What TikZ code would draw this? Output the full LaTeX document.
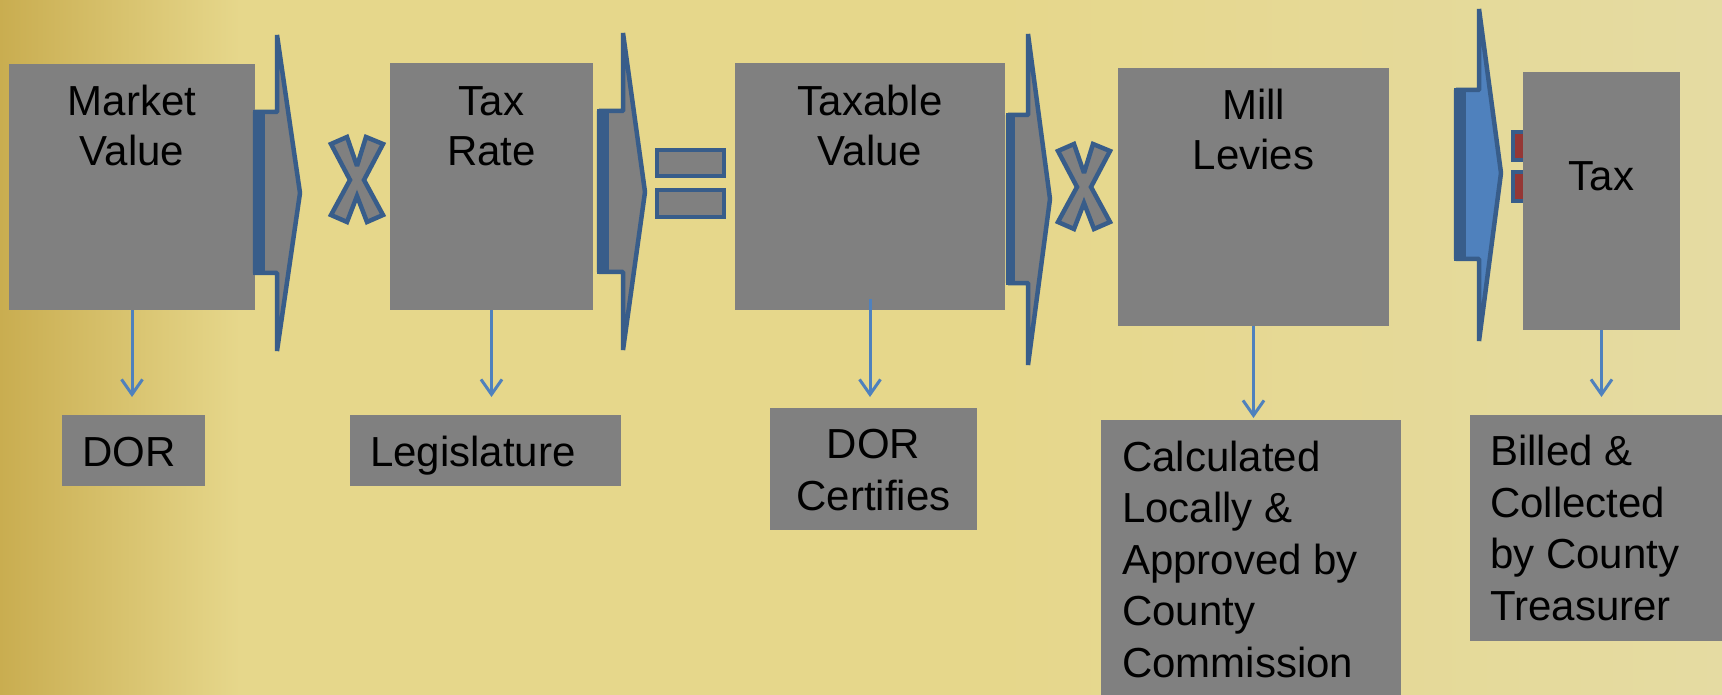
\documentclass[tikz,border=0pt]{standalone}
\usepackage{fontspec}
\setmainfont{Liberation Sans}
\usetikzlibrary{arrows.meta, positioning}

\definecolor{Slate}{HTML}{808080}
\definecolor{Outline}{HTML}{385D8A}
\definecolor{SkyFill}{HTML}{4F81BD}
\definecolor{Brick}{HTML}{953735}
\definecolor{GoldDark}{HTML}{C9AD50}
\definecolor{GoldMid}{HTML}{E6D78B}
\definecolor{GoldPale}{HTML}{E5DBA2}

\tikzset{
  box/.style={rectangle, fill=Slate, inner sep=0pt, outer sep=0pt},
  words/.style={font=\fontsize{42}{50}\selectfont, inner sep=0pt, anchor=base},
  notes/.style={words, font=\fontsize{42}{51.5}\selectfont},
  down/.style={-{Straight Barb[length=15pt, width=21pt, line width=3pt]}, line width=3pt, draw=SkyFill},
  sign/.style={draw=Outline, line width=4.5pt, fill=Slate, line join=miter, miter limit=3},
  times/.pic={
    \draw[sign] (-26,-36) -- (-10,-43) -- (0,-14) -- (9,-43) -- (26,-36) -- (7,0)
      -- (26,35) -- (10,42) -- (0,16) -- (-10,42) -- (-26,35) -- (-7,0) -- cycle;
  }
}

\begin{document}
\begin{tikzpicture}[x=1pt, y=-1pt]
  \useasboundingbox (0,0) rectangle (1722,695);

  % background
  \shade[left color=GoldDark, right color=GoldMid] (0,0) rectangle (240,695);
  \fill[GoldMid] (239,0) rectangle (1001,695);
  \shade[left color=GoldMid, right color=GoldPale] (1000,0) rectangle (1722,695);

  % equals sign partly hidden behind the last box
  \draw[sign, fill=Brick] (1513,132) rectangle (1562,160);
  \draw[sign, fill=Brick] (1513,172) rectangle (1562,201);

  % top row
  \node[box, minimum width=246, minimum height=246] (mv) at (132,187) {};
  \node[box, minimum width=203, minimum height=247] (tr) at (491.5,186.5) {};
  \node[box, minimum width=270, minimum height=247] (tv) at (870,186.5) {};
  \node[box, minimum width=271, minimum height=258] (ml) at (1253.5,197) {};
  \node[box, minimum width=157, minimum height=258] (tx) at (1601.5,201) {};

  % bottom row
  \node[box, minimum width=143, minimum height=71] (dor) at (133.5,450.5) {};
  \node[box, minimum width=271, minimum height=71] (leg) at (485.5,450.5) {};
  \node[box, minimum width=207, minimum height=122] (cert) at (873.5,469) {};
  \node[box, minimum width=300, minimum height=290] (calc) at (1251,565) {};
  \node[box, minimum width=260, minimum height=226] (bill) at (1600,528) {};

  % block arrows between the boxes
  \draw[sign, line join=bevel] (255,112) -- (277,112) -- (277,35) -- (300,193) -- (277,351)
    -- (277,273) -- (255,273) -- cycle;
  \fill[Outline] (253,110) rectangle (265,275);
  \draw[sign, line join=bevel] (599,111) -- (623,111) -- (623,33) -- (645,192) -- (623,350)
    -- (623,272) -- (599,272) -- cycle;
  \fill[Outline] (597,109) rectangle (609,274);
  \draw[sign, line join=bevel] (1008,115) -- (1028,115) -- (1028,34) -- (1050,199) -- (1028,365)
    -- (1028,283) -- (1008,283) -- cycle;
  \fill[Outline] (1006,113) rectangle (1015,285);
  \draw[sign, fill=SkyFill, line join=bevel] (1456,90) -- (1479,90) -- (1479,9) -- (1501,173) -- (1479,341)
    -- (1479,259) -- (1456,259) -- cycle;
  \fill[Outline] (1454,88) rectangle (1466,261);

  % operators
  \pic (x1) at (357,180) {times};
  \pic (x2) at (1084,187) {times};
  \draw[sign] (657,150) rectangle (724,176);
  \draw[sign] (657,190) rectangle (724,217);

  % who does what
  \draw[down, shorten >=18pt] (mv.south) -- (mv.south |- dor.north);
  \draw[down, shorten >=18pt] (tr.south) -- (tr.south |- leg.north);
  \draw[down, shorten <=-11pt, shorten >=11pt] (tv.south) -- (tv.south |- cert.north);
  \draw[down, shorten >=2pt] (ml.south) -- (ml.south |- calc.north);
  \draw[down, shorten >=18pt] (tx.south) -- (tx.south |- bill.north);

  % labels (multi-line ones sit on their last baseline)
  \node[words, align=center] (mv-t) at (132,166) {Market\\Value};
  \node[words, align=center] (tr-t) at (491.5,166) {Tax\\Rate};
  \node[words, align=center] (tv-t) at (870,166) {Taxable\\Value};
  \node[words, align=center] (ml-t) at (1253.5,170) {Mill\\Levies};
  \node[words] (tx-t) at (1601.5,191) {Tax};

  \node[notes, anchor=base west] (dor-t) at (82,466) {DOR};
  \node[notes, anchor=base west] (leg-t) at (370,466) {Legislature};
  \node[notes, align=center] (cert-t) at (873.5,510) {DOR\\Certifies};
  \node[notes, align=left, anchor=base west] (calc-t) at (1122,677)
    {Calculated\\Locally \&\\Approved by\\County\\Commission};
  \node[notes, align=left, anchor=base west] (bill-t) at (1490,620)
    {Billed \&\\Collected\\by County\\Treasurer};
\end{tikzpicture}
\end{document}
